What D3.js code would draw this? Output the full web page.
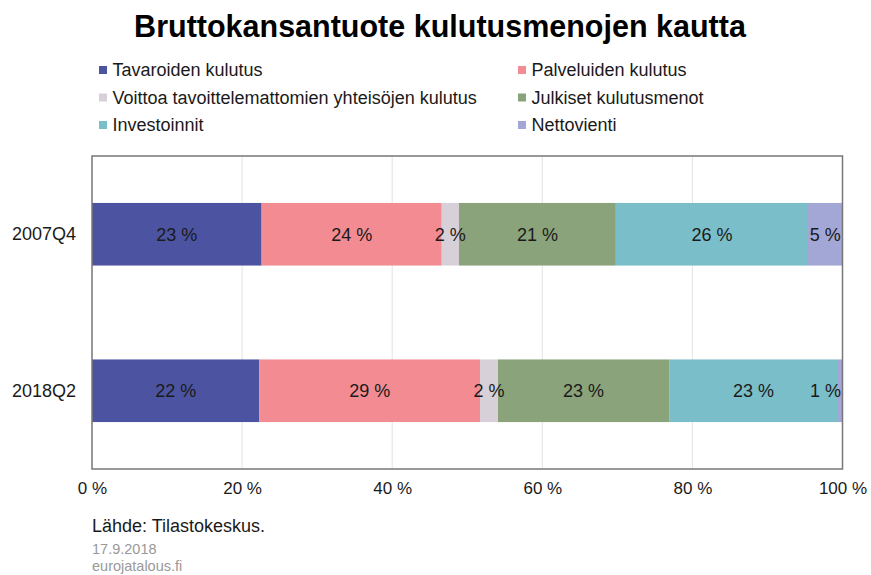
<!DOCTYPE html>
<html lang="fi">
<head>
    <meta charset="UTF-8">
    <title>Bruttokansantuote kulutusmenojen kautta</title>
    <script src="https://cdn.jsdelivr.net/npm/d3@7"></script>
    <style>
        body { margin: 0; background: #fff; }
        text { font-family: "Liberation Sans", Arial, sans-serif; }
    </style>
</head>
<body>
<script>
    // data
    var categories = ["2007Q4", "2018Q2"];
    var seriesNames = ["Tavaroiden kulutus", "Palveluiden kulutus",
        "Voittoa tavoittelemattomien yhteisöjen kulutus", "Julkiset kulutusmenot",
        "Investoinnit", "Nettovienti"];
    var seriesColors = ["#4c54a1", "#f28b92", "#d7d0d8", "#8aa37a", "#7abec9", "#a3a7d6"];
    // osuudet (%) järjestyksessä categories
    var tavarat   = [22.6, 22.3];
    var palvelut  = [24.0, 29.4];
    var voittoa   = [2.3, 2.4];
    var julkiset  = [20.9, 22.8];
    var investoinnit = [25.6, 22.5];
    var nettovienti  = [4.6, 0.6];
    var xTicks = [0, 20, 40, 60, 80, 100];

    var values = [tavarat, palvelut, voittoa, julkiset, investoinnit, nettovienti];

    var width = 871, height = 575;
    var plot = {left: 92, right: 842.5, top: 156, bottom: 469};

    var svg = d3.select("body").append("svg")
        .attr("width", width)
        .attr("height", height);

    // otsikko
    svg.append("text")
        .attr("x", 440).attr("y", 37)
        .attr("text-anchor", "middle")
        .style("font-size", "30.5px")
        .style("font-weight", "bold")
        .attr("fill", "#000")
        .text("Bruttokansantuote kulutusmenojen kautta");

    // selite
    var legend = svg.append("g");
    seriesNames.forEach(function (name, i) {
        var col = i % 2, row = Math.floor(i / 2);
        var gx = col === 0 ? 99 : 518;
        var gy = 70 + row * 27.5;
        legend.append("rect")
            .attr("x", gx).attr("y", gy - 4)
            .attr("width", 8).attr("height", 8)
            .attr("fill", seriesColors[i]);
        legend.append("text")
            .attr("x", gx + 13.5).attr("y", gy + 6)
            .style("font-size", "18px")
            .attr("fill", "#1a1a1a")
            .text(name);
    });

    var xScale = d3.scaleLinear().domain([0, 100]).range([plot.left, plot.right]);
    var yScale = d3.scaleBand().domain(categories)
        .range([plot.top, plot.bottom])
        .paddingInner(0.6).paddingOuter(0.3);

    // ruudukko
    svg.append("g").selectAll("line")
        .data(xTicks.slice(1, -1))
        .enter().append("line")
        .attr("x1", function (d) { return xScale(d); })
        .attr("x2", function (d) { return xScale(d); })
        .attr("y1", plot.top).attr("y2", plot.bottom)
        .attr("stroke", "#e3e3e3").attr("stroke-width", 1);

    // pinotut palkit
    var stacked = [];
    categories.forEach(function (c, ci) {
        var acc = 0;
        values.forEach(function (arr, si) {
            stacked.push({cat: c, s: si, x0: acc, x1: acc + arr[ci], v: arr[ci]});
            acc += arr[ci];
        });
    });

    svg.append("g").selectAll("rect")
        .data(stacked)
        .enter().append("rect")
        .attr("x", function (d) { return xScale(d.x0); })
        .attr("width", function (d) { return xScale(d.x1) - xScale(d.x0); })
        .attr("y", function (d) { return yScale(d.cat); })
        .attr("height", yScale.bandwidth())
        .attr("fill", function (d) { return seriesColors[d.s]; });

    // arvot
    svg.append("g").selectAll("text")
        .data(stacked)
        .enter().append("text")
        .attr("x", function (d) {
            var cx = (xScale(d.x0) + xScale(d.x1)) / 2;
            return Math.min(cx, plot.right - 17);
        })
        .attr("y", function (d) { return yScale(d.cat) + yScale.bandwidth() / 2 + 6.5; })
        .attr("text-anchor", "middle")
        .style("font-size", "18px")
        .attr("fill", "#1a1a1a")
        .text(function (d) { return Math.round(d.v) + " %"; });

    // kehys
    svg.append("rect")
        .attr("x", plot.left).attr("y", plot.top)
        .attr("width", plot.right - plot.left)
        .attr("height", plot.bottom - plot.top)
        .attr("fill", "none")
        .attr("stroke", "#777").attr("stroke-width", 1.5);

    // akselit
    var axisX = d3.axisBottom(xScale).tickValues(xTicks)
        .tickSize(0).tickPadding(13)
        .tickFormat(function (d) { return d + " %"; });
    var gx = svg.append("g")
        .attr("transform", "translate(0," + plot.bottom + ")")
        .call(axisX);
    gx.select(".domain").remove();
    gx.selectAll("text").style("font-size", "17px").attr("fill", "#1a1a1a")
        .style("font-family", "'Liberation Sans', Arial, sans-serif");

    var axisY = d3.axisLeft(yScale).tickSize(0).tickPadding(16);
    var gy = svg.append("g")
        .attr("transform", "translate(" + plot.left + ",0)")
        .call(axisY);
    gy.select(".domain").remove();
    gy.selectAll("text").style("font-size", "18px").attr("fill", "#1a1a1a")
        .style("font-family", "'Liberation Sans', Arial, sans-serif");

    // lähde
    svg.append("text")
        .attr("x", 92).attr("y", 532)
        .style("font-size", "18px").attr("fill", "#1a1a1a")
        .text("Lähde: Tilastokeskus.");
    svg.append("text")
        .attr("x", 92).attr("y", 554)
        .style("font-size", "14.5px").attr("fill", "#999")
        .text("17.9.2018");
    svg.append("text")
        .attr("x", 92).attr("y", 571)
        .style("font-size", "14.5px").attr("fill", "#999")
        .text("eurojatalous.fi");
</script>
</body>
</html>
